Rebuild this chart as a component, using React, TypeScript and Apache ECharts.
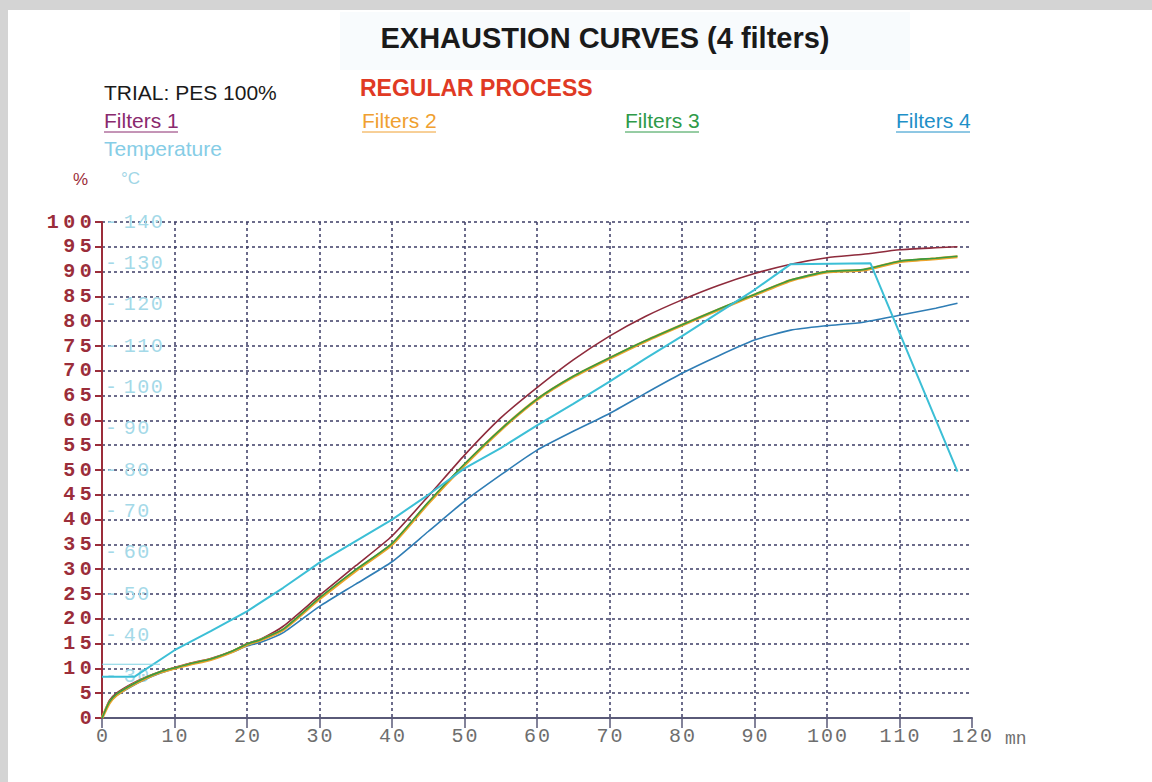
import React, { useEffect, useRef } from "react";
import * as echarts from "echarts";

const minutes = [0, 1, 2, 4, 6, 8, 10, 12, 15, 18, 20, 22, 25, 30, 35, 40, 45, 50, 55, 60, 65, 70, 75, 80, 85, 90, 95, 100, 105, 110, 115, 118];
const filters1 = [0, 3.5, 5, 6.8, 8.2, 9.3, 10.2, 11, 12, 13.5, 15, 16, 18.5, 24.7, 30.7, 36.7, 44.7, 53, 60.5, 66.6, 72.2, 77, 81, 84.3, 87.2, 89.6, 91.5, 92.8, 93.5, 94.4, 94.8, 95];
const filters2 = [0, 3, 4.6, 6.5, 8, 9.2, 10, 10.8, 11.8, 13.4, 14.8, 15.8, 17.8, 24, 29.7, 35, 43.3, 51, 58.1, 64.2, 68.8, 72.5, 76, 79.2, 82.3, 85.3, 88.2, 89.9, 90.3, 92, 92.6, 93];
const filters3 = [0, 3.2, 4.8, 6.6, 8.1, 9.3, 10.1, 10.9, 11.9, 13.5, 14.9, 15.9, 17.9, 24.2, 29.9, 35.2, 43.5, 51.2, 58.2, 64.3, 68.9, 72.6, 76.1, 79.3, 82.4, 85.4, 88.3, 90, 90.4, 92.1, 92.7, 93.1];
const filters4 = [0, 3, 4.5, 6.3, 7.8, 9, 10, 10.8, 11.8, 13.3, 14.5, 15.3, 17.2, 22.5, 27, 31.5, 37.6, 43.7, 49, 54, 57.8, 61.4, 65.5, 69.5, 73, 76.2, 78.2, 79.1, 79.8, 81.2, 82.6, 83.6];

const tempMinutes = [0, 4.5, 10, 15, 20, 25, 30, 35, 40, 45, 50, 55, 60, 65, 70, 75, 80, 85, 90, 95, 106, 118];
const tempValues = [30, 30, 36.4, 41, 45.8, 51.5, 57.6, 62.8, 68, 74, 80.4, 85.3, 90.8, 96, 101.4, 107, 112.4, 118, 123.6, 129.8, 130, 79.6];
const tempAuxMinutes = [0, 8];
const tempAuxValues = [33, 33];

const xTicks = [0, 10, 20, 30, 40, 50, 60, 70, 80, 90, 100, 110, 120];

const pairs = (xs: number[], ys: number[]) => xs.map((x, i) => [x, ys[i]]);
const spaced = (s: string, key: string) => s.split("").map((c) => `{${key}|${c}}`).join("");

export default function App() {
  const ref = useRef<HTMLDivElement>(null);
  useEffect(() => {
    if (!ref.current) return;
    const chart = echarts.init(ref.current, null, { renderer: "svg" });
    const sans = "Liberation Sans, Arial, sans-serif";
    const mono = "Liberation Mono, Courier New, monospace";
    const grid = "#3c3c66";
    const legend = [
      { t: "Filters 1", x: 104, c: "#8a2a6e" },
      { t: "Filters 2", x: 362, c: "#f0a030" },
      { t: "Filters 3", x: 625, c: "#2e9a48" },
      { t: "Filters 4", x: 896, c: "#1e90c8" },
    ];
    const legendEls: any[] = [];
    legend.forEach((l) => {
      legendEls.push({
        type: "text",
        style: { text: l.t, x: l.x, y: 120, fill: l.c, font: `21px ${sans}`, textAlign: "left", textVerticalAlign: "middle" },
      });
      legendEls.push({
        type: "line",
        shape: { x1: l.x, y1: 132, x2: l.x + 74, y2: 132 },
        style: { stroke: l.c, lineWidth: 1 },
      });
    });
    chart.setOption({
      animation: false,
      backgroundColor: "#ffffff",
      graphic: [
        { type: "rect", shape: { x: 0, y: 0, width: 1152, height: 10 }, style: { fill: "#d4d4d4" } },
        { type: "rect", shape: { x: 0, y: 0, width: 8, height: 782 }, style: { fill: "#d4d4d4" } },
        { type: "rect", shape: { x: 340, y: 12, width: 570, height: 58 }, style: { fill: "#f8fbfd" } },
        {
          type: "text",
          style: { text: "EXHAUSTION CURVES (4 filters)", x: 605, y: 38, fill: "#1a1a1a", font: `bold 29px ${sans}`, textAlign: "center", textVerticalAlign: "middle" },
        },
        {
          type: "text",
          style: { text: "TRIAL: PES 100%", x: 104, y: 92, fill: "#1a1a1a", font: `21px ${sans}`, textAlign: "left", textVerticalAlign: "middle" },
        },
        {
          type: "text",
          style: { text: "REGULAR PROCESS", x: 360, y: 88, fill: "#e03a24", font: `bold 23px ${sans}`, textAlign: "left", textVerticalAlign: "middle" },
        },
        ...legendEls,
        {
          type: "text",
          style: { text: "Temperature", x: 104, y: 148, fill: "#86cde6", font: `21px ${sans}`, textAlign: "left", textVerticalAlign: "middle" },
        },
        {
          type: "text",
          style: { text: "%", x: 73, y: 179, fill: "#9b2d3a", font: `17px ${sans}`, textAlign: "left", textVerticalAlign: "middle" },
        },
        {
          type: "text",
          style: { text: "°C", x: 121, y: 178, fill: "#9fd6e6", font: `17px ${sans}`, textAlign: "left", textVerticalAlign: "middle" },
        },
        {
          type: "text",
          style: { text: "mn", x: 1005, y: 739, fill: "#707070", font: `18px ${mono}`, textAlign: "left", textVerticalAlign: "middle" },
        },
      ],
      grid: { left: 102, right: 180, top: 222, bottom: 64 },
      xAxis: {
        type: "value",
        min: 0,
        max: 120,
        interval: 10,
        axisLine: { show: true, lineStyle: { color: "#5a5a78", width: 2 } },
        axisTick: { show: true, length: 10, lineStyle: { color: "#5a5a78", width: 1.5 } },
        axisLabel: {
          margin: 8,
          formatter: (v: number) => (xTicks.includes(v) ? spaced(String(v), "d") : ""),
          rich: { d: { width: 14, align: "center", color: "#6e6e6e", fontFamily: mono, fontSize: 20 } },
        },
        splitLine: { show: true, showMaxLine: false, showMinLine: false, lineStyle: { color: grid, type: [3, 3], width: 1.5 } },
      },
      yAxis: [
        {
          type: "value",
          min: 0,
          max: 100,
          interval: 5,
          axisLine: { show: true, lineStyle: { color: "#9b2d3a", width: 2 } },
          axisTick: { show: true, length: 7, lineStyle: { color: "#9b2d3a", width: 2 } },
          axisLabel: {
            margin: 8,
            formatter: (v: number) => spaced(String(v), "d"),
            rich: { d: { width: 16.5, align: "center", color: "#9b2d3a", fontFamily: mono, fontWeight: "bold", fontSize: 20 } },
          },
          splitLine: { show: true, showMinLine: false, lineStyle: { color: grid, type: [3, 3], width: 1.5 } },
        },
        {
          type: "value",
          min: 20,
          max: 140,
          interval: 10,
          position: "left",
          axisLine: { show: false },
          axisTick: { show: false },
          splitLine: { show: false },
          axisLabel: {
            inside: true,
            margin: 3,
            formatter: (v: number) => (v === 20 ? "" : "{s|-}" + spaced(String(v), "d")),
            rich: {
              s: { width: 18, align: "left", color: "#a4d9e8", fontFamily: mono, fontSize: 20 },
              d: { width: 13.5, align: "center", color: "#a4d9e8", fontFamily: mono, fontSize: 20 },
            },
          },
        },
      ],
      series: [
        {
          name: "Filters 4",
          type: "line",
          data: pairs(minutes, filters4),
          showSymbol: false,
          smooth: 0.2,
          lineStyle: { color: "#2f7db5", width: 1.6 },
        },
        {
          name: "Filters 1",
          type: "line",
          data: pairs(minutes, filters1),
          showSymbol: false,
          smooth: 0.2,
          lineStyle: { color: "#8e2b3c", width: 1.6 },
        },
        {
          name: "Filters 2",
          type: "line",
          data: pairs(minutes, filters2),
          showSymbol: false,
          smooth: 0.2,
          lineStyle: { color: "#eca42c", width: 3 },
        },
        {
          name: "Filters 3",
          type: "line",
          data: pairs(minutes, filters3),
          showSymbol: false,
          smooth: 0.2,
          lineStyle: { color: "#3a9a40", width: 1.6 },
        },
        {
          name: "Temperature",
          type: "line",
          yAxisIndex: 1,
          data: pairs(tempMinutes, tempValues),
          showSymbol: false,
          lineStyle: { color: "#3cbfd6", width: 2 },
        },
        {
          name: "Temperature set",
          type: "line",
          yAxisIndex: 1,
          data: pairs(tempAuxMinutes, tempAuxValues),
          showSymbol: false,
          lineStyle: { color: "#7fd3e3", width: 1.2 },
        },
      ],
    });
    return () => chart.dispose();
  }, []);
  return <div ref={ref} style={{ position: "fixed", left: 0, top: 0, width: 1152, height: 782 }} />;
}
